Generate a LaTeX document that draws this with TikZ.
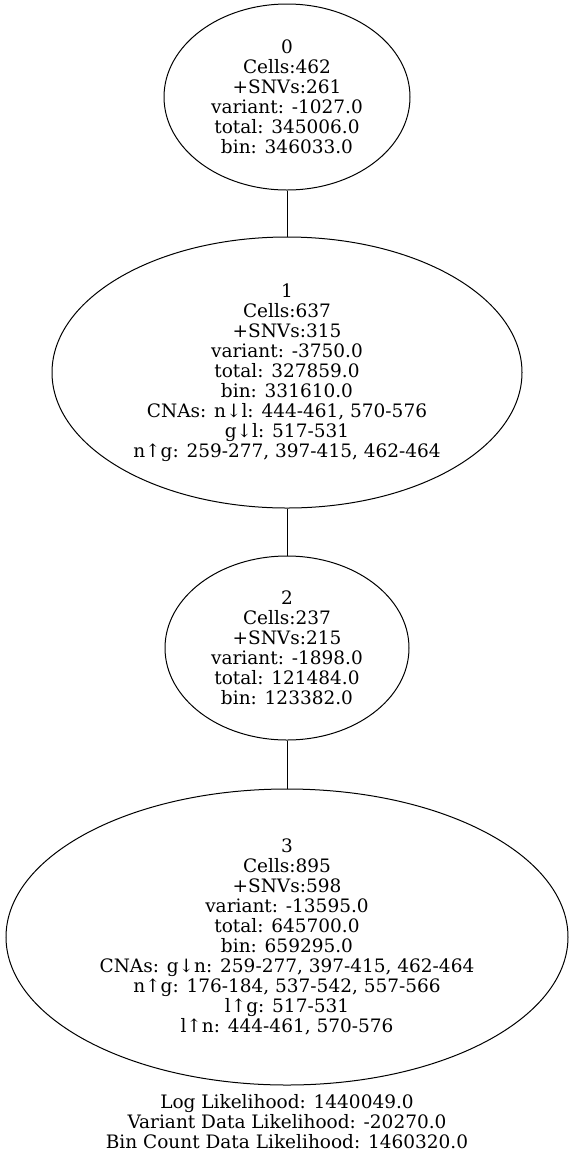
\documentclass[tikz,border=0pt]{standalone}
\usepackage{fontspec}
\setmainfont{DejaVu Serif}
\usetikzlibrary{shapes.geometric}
\tikzset{
  clone/.style={ellipse, draw, line width=1pt, inner sep=0pt, align=center,
    font=\fontsize{18.5}{20}\selectfont},
  tree/.style={line width=1pt},
  caption/.style={inner sep=0pt, align=center, font=\fontsize{18.5}{20}\selectfont}
}
\begin{document}
\begin{tikzpicture}[x=1pt,y=1pt]
\useasboundingbox (0,0) rectangle (573,-1157);
\node[clone, minimum width=246pt, minimum height=186pt] (n0) at (287,-97)
  {0\\Cells:462\\+SNVs:261\\variant: -1027.0\\total: 345006.0\\bin: 346033.0};
\node[clone, minimum width=470pt, minimum height=271pt] (n1) at (287,-372.5)
  {1\\Cells:637\\+SNVs:315\\variant: -3750.0\\total: 327859.0\\bin: 331610.0\\CNAs: n↓l: 444-461, 570-576\\g↓l: 517-531\\n↑g: 259-277, 397-415, 462-464};
\node[clone, minimum width=244pt, minimum height=184pt] (n2) at (287,-648)
  {2\\Cells:237\\+SNVs:215\\variant: -1898.0\\total: 121484.0\\bin: 123382.0};
\node[clone, minimum width=562pt, minimum height=296pt] (n3) at (287,-937)
  {3\\Cells:895\\+SNVs:598\\variant: -13595.0\\total: 645700.0\\bin: 659295.0\\CNAs: g↓n: 259-277, 397-415, 462-464\\n↑g: 176-184, 537-542, 557-566\\l↑g: 517-531\\l↑n: 444-461, 570-576};
\draw[tree] (n0) -- (n1);
\draw[tree] (n1) -- (n2);
\draw[tree] (n2) -- (n3);
\node[caption] (lk) at (287,-1121.5)
  {Log Likelihood: 1440049.0\\Variant Data Likelihood: -20270.0\\Bin Count Data Likelihood: 1460320.0};
\end{tikzpicture}
\end{document}
